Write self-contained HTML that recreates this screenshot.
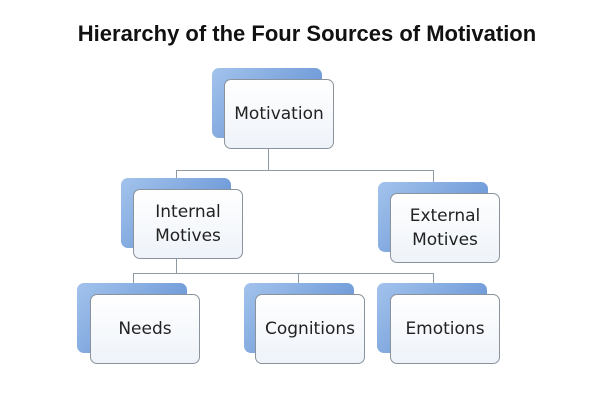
<!DOCTYPE html>
<html><head><style>
body{margin:0;width:614px;height:405px;background:#fff;position:relative;overflow:hidden;font-family:"DejaVu Sans","Liberation Sans",sans-serif;}
.t{position:absolute;left:0;width:614px;top:21px;text-align:center;font-weight:bold;font-size:22px;color:#111;font-family:"Liberation Sans",sans-serif;}
.b{position:absolute;width:110px;height:70px;border-radius:7px;background:linear-gradient(135deg,#a3c3ec,#5a8ad0);}
.f{position:absolute;width:108px;height:68px;border-radius:7px;border:1px solid #8a939c;background:linear-gradient(180deg,#fff,#eef3f9);display:flex;align-items:center;justify-content:center;text-align:center;font-size:17px;color:#222;line-height:24px;}
.l{position:absolute;background:#8e9aa4;}
</style></head><body>
<div class="t">Hierarchy of the Four Sources of Motivation</div>
<div class="l" style="left:268px;top:149px;width:1px;height:22px"></div>
<div class="l" style="left:176px;top:170px;width:258px;height:1px"></div>
<div class="l" style="left:176px;top:170px;width:1px;height:9px"></div>
<div class="l" style="left:433px;top:170px;width:1px;height:12px"></div>
<div class="l" style="left:176px;top:259px;width:1px;height:14px"></div>
<div class="l" style="left:133px;top:273px;width:301px;height:1px"></div>
<div class="l" style="left:133px;top:273px;width:1px;height:11px"></div>
<div class="l" style="left:298px;top:273px;width:1px;height:11px"></div>
<div class="l" style="left:433px;top:273px;width:1px;height:11px"></div>

<div class="b" style="left:212px;top:68px"></div><div class="f" style="left:224px;top:79px">Motivation</div>
<div class="b" style="left:121px;top:178px"></div><div class="f" style="left:133px;top:189px">Internal<br>Motives</div>
<div class="b" style="left:378px;top:182px"></div><div class="f" style="left:390px;top:193px">External<br>Motives</div>
<div class="b" style="left:77px;top:283px"></div><div class="f" style="left:90px;top:294px">Needs</div>
<div class="b" style="left:244px;top:283px"></div><div class="f" style="left:255px;top:294px">Cognitions</div>
<div class="b" style="left:377px;top:283px"></div><div class="f" style="left:390px;top:294px">Emotions</div>
</body></html>
